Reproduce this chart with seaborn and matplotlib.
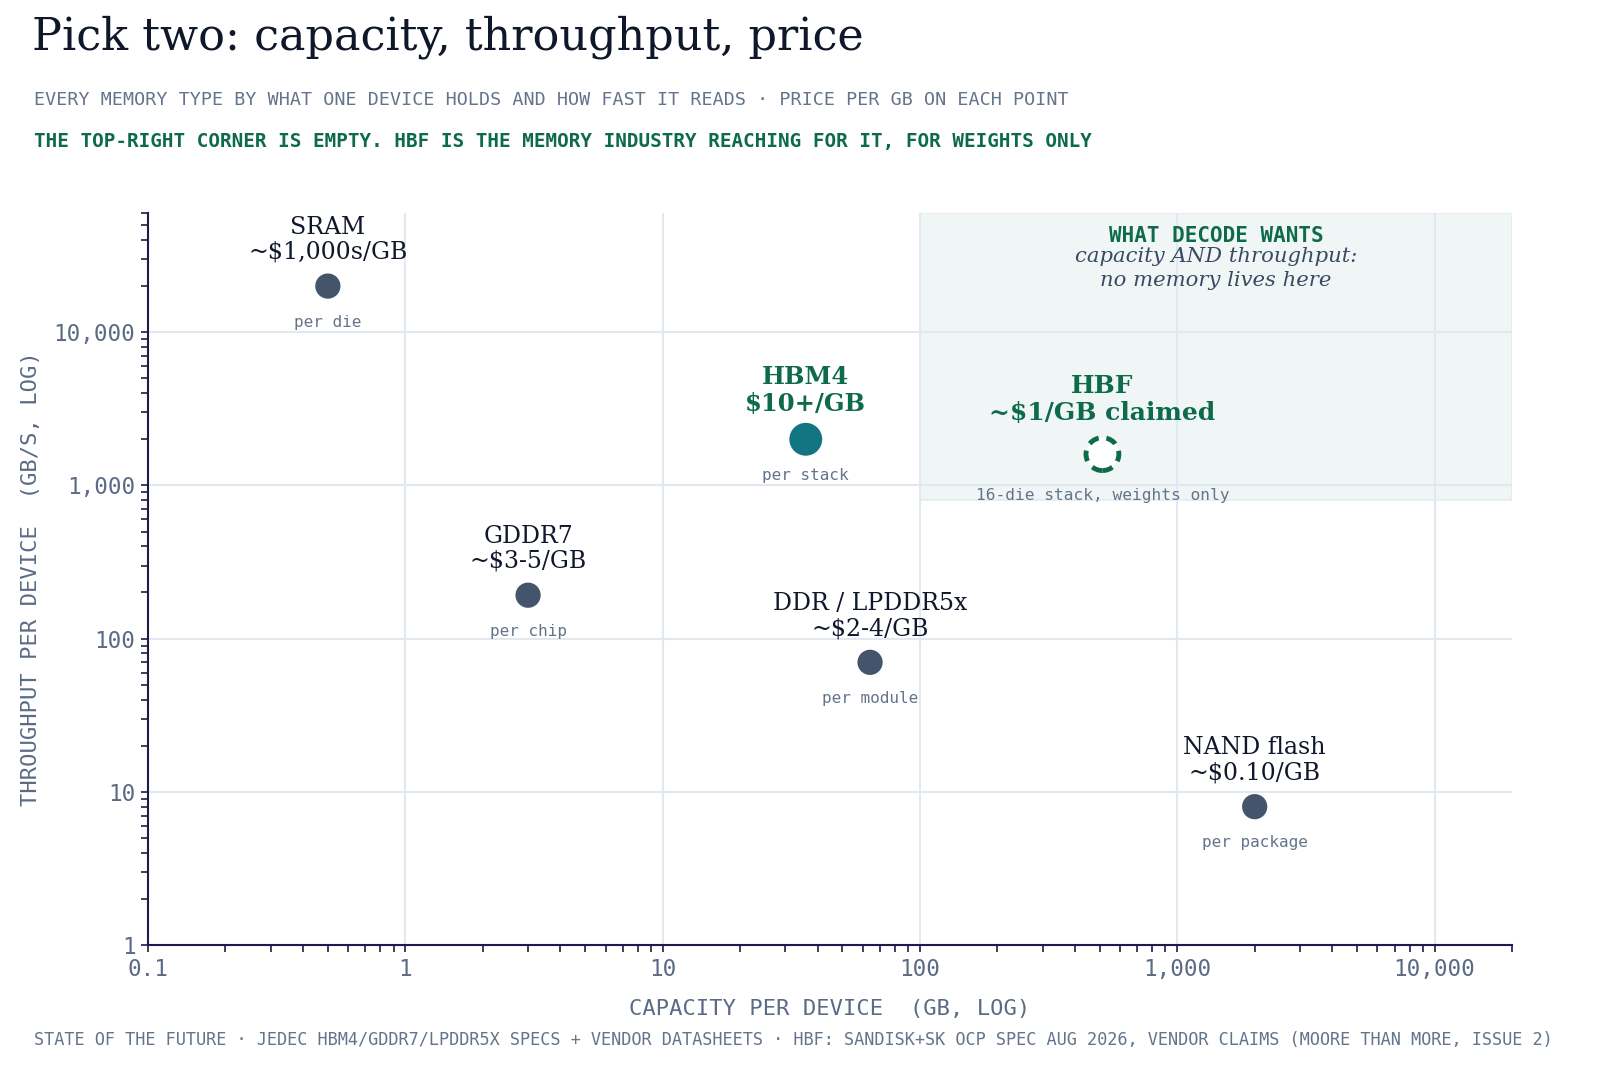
import numpy as np
import pandas as pd
import matplotlib
matplotlib.use("Agg")
import matplotlib.pyplot as plt
import matplotlib.ticker as mticker
import seaborn as sns

# data
names = ["SRAM", "GDDR7", "HBM4", "DDR / LPDDR5x", "NAND flash"]
prices = ["~$1,000s/GB", "~$3-5/GB", "$10+/GB", "~$2-4/GB", "~$0.10/GB"]
units = ["per die", "per chip", "per stack", "per module", "per package"]
capacity_gb = [0.5, 3, 36, 64, 2000]
throughput_gbs = [20000, 192, 2000, 70, 8]

hbf_capacity = [512]
hbf_throughput = [1600]

x_ticks = [0.1, 1, 10, 100, 1000, 10000]
y_ticks = [1, 10, 100, 1000, 10000]

INK = "#0f172a"
SLATE = "#64748b"
TICK = "#5b6b85"
DOT = "#44546a"
TEAL = "#127582"
GREEN = "#0d6b4b"
GRID = "#e2e8f0"

sns.set_theme(style="white")
plt.rcParams["font.family"] = ["DejaVu Serif"]

df = pd.DataFrame({"name": names, "cap": capacity_gb, "thr": throughput_gbs})
df["kind"] = ["other" if n != "HBM4" else "hbm" for n in names]

fig = plt.figure(figsize=(16, 10.91), dpi=100)
ax = fig.add_axes([0.0925, 0.1338, 0.8525, 0.671])

ax.set_xscale("log")
ax.set_yscale("log")
ax.set_xlim(0.1, 20000)
ax.set_ylim(1, 60000)

# target zone: top right corner
ax.axvspan(100, 20000, ymin=np.log10(800) / np.log10(60000), ymax=1,
           facecolor="#eff6f5", edgecolor="#e3ecec", lw=1.2, zorder=0)

ax.grid(True, which="major", color=GRID, lw=1.5, zorder=0.5)
ax.set_axisbelow(True)

others = df[df.kind == "other"]
sns.scatterplot(data=others, x="cap", y="thr", s=330, color=DOT,
                edgecolor="none", ax=ax, zorder=3, legend=False)
sns.scatterplot(data=df[df.kind == "hbm"], x="cap", y="thr", s=560, color=TEAL,
                edgecolor="none", ax=ax, zorder=3, legend=False)
ax.scatter(hbf_capacity, hbf_throughput, s=560, facecolor="white",
           edgecolor=GREEN, linewidth=3.5, linestyle=(0, (2.2, 1.6)), zorder=3)

for n, p, u, cx, cy in zip(names, prices, units, capacity_gb, throughput_gbs):
    hbm = n == "HBM4"
    ax.annotate(f"{n}\n{p}", (cx, cy), xytext=(0, 16 if not hbm else 17),
                textcoords="offset points", ha="center", va="bottom",
                fontsize=17 if not hbm else 17.5, color=GREEN if hbm else INK,
                fontweight="bold" if hbm else "normal", linespacing=1.12)
    ax.annotate(u, (cx, cy), xytext=(0, -26), textcoords="offset points",
                ha="center", va="center", fontsize=11.5, color=SLATE,
                family="DejaVu Sans Mono")

ax.annotate("HBF\n~$1/GB claimed", (hbf_capacity[0], hbf_throughput[0]),
            xytext=(0, 21), textcoords="offset points", ha="center", va="bottom",
            fontsize=18, color=GREEN, fontweight="bold", linespacing=1.18)
ax.annotate("16-die stack, weights only", (hbf_capacity[0], hbf_throughput[0]),
            xytext=(0, -30), textcoords="offset points", ha="center",
            va="center", fontsize=11.7, color=SLATE, family="DejaVu Sans Mono")

zone_x = np.sqrt(100 * 20000)
ax.text(zone_x, 42500, "WHAT DECODE WANTS", ha="center", va="center",
        fontsize=15, fontweight="bold", color=GREEN, family="DejaVu Sans Mono")
ax.text(zone_x, 26000, "capacity AND throughput:\nno memory lives here",
        ha="center", va="center", fontsize=15.2, style="italic", color="#3b4a63",
        linespacing=1.3)

fmt = mticker.FuncFormatter(lambda v, _: f"{v:,.0f}" if v >= 1 else f"{v:g}")
ax.xaxis.set_major_locator(mticker.FixedLocator(x_ticks))
ax.yaxis.set_major_locator(mticker.FixedLocator(y_ticks))
ax.xaxis.set_major_formatter(fmt)
ax.yaxis.set_major_formatter(fmt)
ax.xaxis.set_minor_locator(mticker.LogLocator(base=10, subs=np.arange(2, 10)))
ax.yaxis.set_minor_locator(mticker.LogLocator(base=10, subs=np.arange(2, 10)))
ax.xaxis.set_minor_formatter(mticker.NullFormatter())
ax.yaxis.set_minor_formatter(mticker.NullFormatter())
ax.tick_params(which="both", direction="out", color="#1e1b4b", width=1.2,
               bottom=True, left=True)
ax.tick_params(which="major", length=5, labelsize=16.3, labelcolor=TICK, pad=4)
ax.tick_params(which="minor", length=5)
for lab in ax.get_xticklabels() + ax.get_yticklabels():
    lab.set_family("DejaVu Sans Mono")

for side in ["top", "right"]:
    ax.spines[side].set_visible(False)
for side in ["left", "bottom"]:
    ax.spines[side].set_color("#1e1b4b")
    ax.spines[side].set_linewidth(1.5)

ax.set_xlabel("CAPACITY PER DEVICE  (GB, LOG)", family="DejaVu Sans Mono",
              fontsize=15.9, color=TICK, labelpad=13)
ax.set_ylabel("THROUGHPUT PER DEVICE  (GB/S, LOG)", family="DejaVu Sans Mono",
              fontsize=15.9, color=TICK, labelpad=9)

fig.text(0.02, 0.966, "Pick two: capacity, throughput, price", fontsize=32,
         color=INK, va="center", ha="left")
fig.text(0.021, 0.908, "EVERY MEMORY TYPE BY WHAT ONE DEVICE HOLDS AND HOW FAST IT READS · PRICE PER GB ON EACH POINT",
         fontsize=13.2, color=SLATE, family="DejaVu Sans Mono", va="center")
fig.text(0.021, 0.870, "THE TOP-RIGHT CORNER IS EMPTY. HBF IS THE MEMORY INDUSTRY REACHING FOR IT, FOR WEIGHTS ONLY",
         fontsize=13.9, color=GREEN, family="DejaVu Sans Mono",
         fontweight="bold", va="center")
fig.text(0.021, 0.047, "STATE OF THE FUTURE · JEDEC HBM4/GDDR7/LPDDR5X SPECS + VENDOR DATASHEETS · HBF: SANDISK+SK OCP SPEC AUG 2026, VENDOR CLAIMS (MOORE THAN MORE, ISSUE 2)",
         fontsize=12.2, color=SLATE, family="DejaVu Sans Mono", va="center")

fig.savefig("out.png", dpi=100, facecolor="white")
